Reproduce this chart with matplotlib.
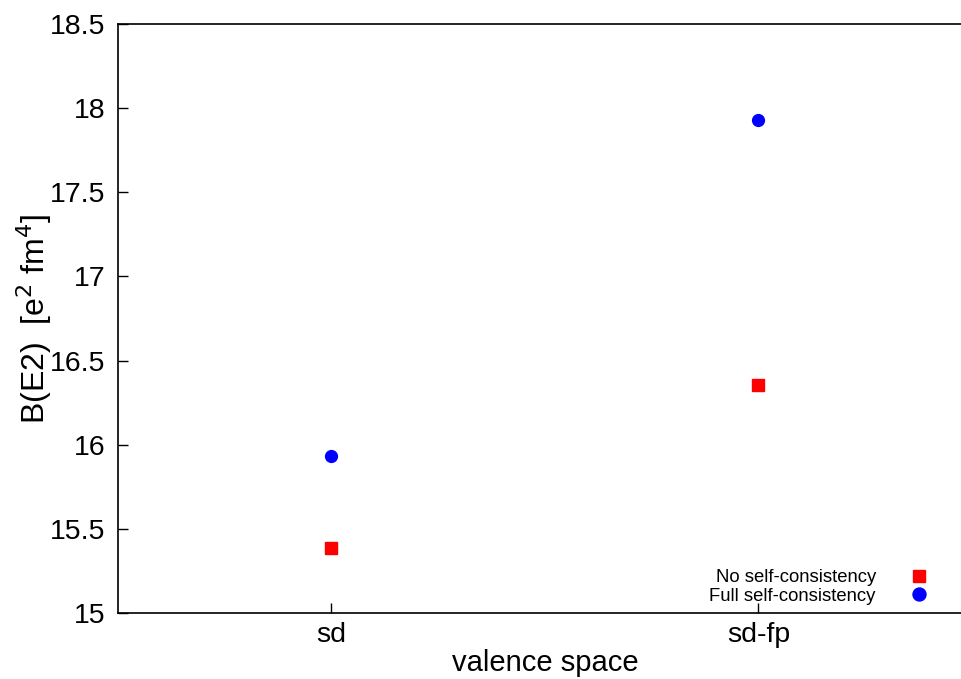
import matplotlib
matplotlib.use("Agg")
import matplotlib.pyplot as plt

categories = ["sd", "sd-fp"]
no_sc = [15.385, 16.355]
full_sc = [15.932, 17.93]
yticks = [15, 15.5, 16, 16.5, 17, 17.5, 18, 18.5]
ytick_labels = ["15", "15.5", "16", "16.5", "17", "17.5", "18", "18.5"]

plt.rcParams['font.family'] = ['Liberation Sans', 'DejaVu Sans']

fig = plt.figure(figsize=(9.62, 6.79), dpi=100)
W, H = 962, 679
left, right, top, bottom = 118, 972, 24, 613
ax = fig.add_axes([left / W, 1 - bottom / H, (right - left) / W, (bottom - top) / H])

x = [1, 2]
ax.plot(x, no_sc, linestyle='none', marker='s', color='#ff0000', markersize=8.5,
        label='No self-consistency')
ax.plot(x, full_sc, linestyle='none', marker='o', color='#0000ff', markersize=8.5,
        label='Full self-consistency')

ax.set_xlim(0.5, 2.5)
ax.set_ylim(15, 18.5)
ax.set_xticks(x)
ax.set_xticklabels(categories)
ax.set_yticks(yticks)
ax.set_yticklabels(ytick_labels)
ax.tick_params(direction='in', length=7, width=1, labelsize=20.5, top=False, right=True, pad=9)
ax.tick_params(axis='x', pad=6.5)
for s in ax.spines.values():
    s.set_linewidth(1.2)

ax.set_xlabel('valence space', fontsize=21, labelpad=0.5)
ax.set_ylabel(r'B(E2)  [e$^2$ fm$^4$]', fontsize=23, labelpad=-3)

leg = ax.legend(loc='lower right', bbox_to_anchor=((946 - left) / (right - left), -0.008),
                frameon=False, fontsize=13.3, markerfirst=False, handletextpad=1.6,
                labelspacing=0.08, borderaxespad=0.3, handlelength=1.5, markerscale=1.1)
for t in leg.get_texts():
    t.set_ha('right')

fig.savefig('out.png', dpi=100)
